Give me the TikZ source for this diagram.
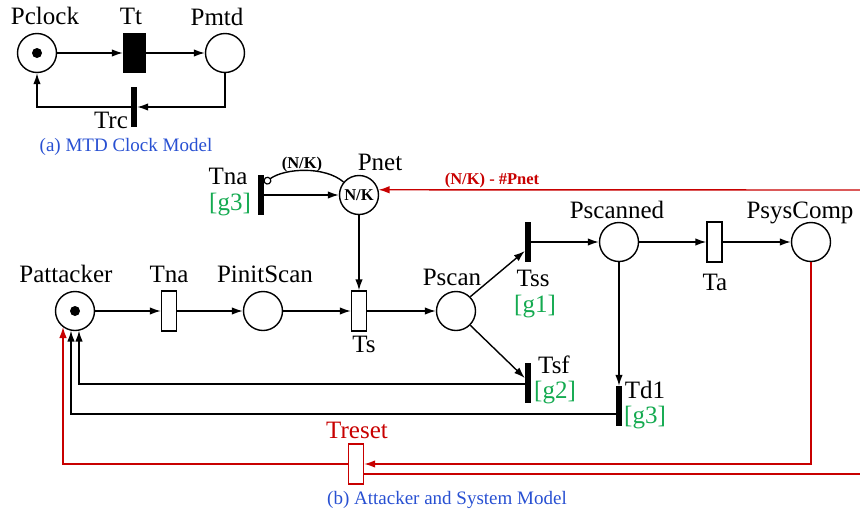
\documentclass[tikz,border=0pt]{standalone}
\usepackage{fontspec}
\setmainfont{Liberation Serif}
\usetikzlibrary{arrows.meta,calc}
\definecolor{capblue}{RGB}{40,80,210}
\definecolor{guardgreen}{RGB}{20,170,80}
\definecolor{arcred}{RGB}{200,0,0}

\begin{document}
\begin{tikzpicture}[x=1pt,y=-1pt,
  place/.style={circle,draw,line width=1.4pt,minimum size=39pt,inner sep=0pt},
  bar/.style={rectangle,fill=black,minimum width=6pt,minimum height=40pt,inner sep=0pt},
  tbox/.style={rectangle,draw,line width=1.4pt,minimum width=15pt,minimum height=40pt,inner sep=0pt,fill=white},
  arr/.style={line width=1.4pt,-{Latex[length=11pt,width=7.5pt]}},
  ln/.style={line width=1.4pt},
  lbl/.style={font=\fontsize{25}{25}\selectfont,inner sep=0pt,anchor=base},
  grd/.style={lbl,text=guardgreen},
  captxt/.style={font=\fontsize{19}{19}\selectfont,text=capblue,inner sep=0pt,anchor=base},
  wt/.style={font=\bfseries\fontsize{16.5}{16.5}\selectfont,inner sep=0pt},
  token/.style={circle,fill=black,minimum size=10pt,inner sep=0pt}
]
\useasboundingbox (0,0) rectangle (860,509);

% ---------- (a) clock model ----------
\node[place] (Pclock) at (37,53) {};
\node[token] (tokClock) at (Pclock) {};
\node[rectangle,fill=black,minimum width=23pt,minimum height=40pt,inner sep=0pt] (Tt) at (134.5,53) {};
\node[place] (Pmtd) at (225,53) {};
\node[bar] (Trc) at (134,107) {};

\draw[arr] (Pclock) -- (Tt);
\draw[arr] (Tt) -- (Pmtd);
\draw[arr] (Pmtd.south) |- (Trc.east);
\draw[arr] (Trc.west) -| (Pclock.south);

\node[lbl] (lPclock) at (45,24) {Pclock};
\node[lbl] (lTt) at (131,24) {Tt};
\node[lbl] (lPmtd) at (217,25) {Pmtd};
\node[lbl] (lTrc) at (111,128) {Trc};
\node[captxt] (capA) at (126,151) {(a) MTD Clock Model};

% ---------- (b) attacker and system model ----------
\node[place] (Pat) at (75,311) {};
\node[token] (tokAt) at (Pat) {};
\node[tbox] (TnaA) at (169,311) {};
\node[place] (Pinit) at (263,311) {};
\node[tbox] (Ts) at (359,311) {};
\node[place] (Pscan) at (456,311) {};
\node[bar] (Tss) at (528,242) {};
\node[place] (Pscanned) at (619,242) {};
\node[tbox] (Ta) at (714.5,242) {};
\node[place] (Psys) at (811,242) {};
\node[bar] (Tsf) at (528,383) {};
\node[bar] (Td1) at (619,406) {};
\node[bar] (TnaB) at (261,195) {};
\node[place,wt] (Pnet) at (359,195) {N/K};
\node[tbox,draw=arcred] (Treset) at (356,464) {};

% main flow
\draw[arr] (Pat) -- (TnaA);
\draw[arr] (TnaA) -- (Pinit);
\draw[arr] (Pinit) -- (Ts);
\draw[arr] (Ts) -- (Pscan);
\draw[arr] (Pnet) -- (Ts);
\draw[arr] (TnaB) -- (Pnet);

% inhibitor arc from Pnet to the upper Tna
\coordinate (inh) at ($(TnaB.east)+(0,-12)$);
\draw[ln,{Circle[open,length=8pt,width=8pt,line width=1.2pt]}-] (inh) .. controls (285,168) and (325,166) .. (Pnet.140);

% red input into Pnet
\coordinate (netIn) at (860,190);
\draw[arr,arcred] (netIn) -- (Pnet.15);

% scan outcomes
\draw[arr] (Pscan.45) -- ($(Tss.west)+(0,9)$);
\draw[arr] (Pscan.-45) -- ($(Tsf.west)+(0,-5)$);
\draw[arr] (Tss) -- (Pscanned);
\draw[arr] (Pscanned) -- (Ta);
\draw[arr] (Ta) -- (Psys);
\draw[arr] (Pscanned.south) -- (Td1.north);

% returns to Pattacker
\coordinate (retA) at ($(Pat.center)+(4,19.6)$);
\coordinate (retB) at ($(Pat.center)+(-4,19.6)$);
\coordinate (retC) at ($(Pat.center)+(-12,16)$);
\draw[arr] ($(Tsf.west)+(0,1)$) -| (retA);
\draw[arr] ($(Td1.west)+(0,8)$) -| (retB);

% reset loop
\draw[arr,arcred] (Psys.south) |- (Treset.east);
\draw[arr,arcred] (Treset.west) -| (retC);
\coordinate (resetIn) at (860,474);
\draw[ln,arcred] (resetIn) -- ($(Treset.east)+(0,10)$);

% labels
\node[lbl] (lPat) at (66,282) {Pattacker};
\node[lbl] (lTnaA) at (169,282) {Tna};
\node[lbl] (lPinit) at (265,282) {PinitScan};
\node[lbl] (lTs) at (364,352) {Ts};
\node[lbl] (lPscan) at (452,285) {Pscan};
\node[lbl] (lTss) at (533,286) {Tss};
\node[grd] (gTss) at (535,312) {[g1]};
\node[lbl] (lTsf) at (554,373) {Tsf};
\node[grd] (gTsf) at (555,398) {[g2]};
\node[lbl] (lTd1) at (645,398) {Td1};
\node[grd] (gTd1) at (645,423) {[g3]};
\node[lbl] (lTnaB) at (228,184) {Tna};
\node[grd] (gTnaB) at (230,210) {[g3]};
\node[lbl] (lPnet) at (380,170) {Pnet};
\node[wt,anchor=base] (wInh) at (302,168) {(N/K)};
\node[wt,anchor=base,text=arcred] (wNet) at (492,184) {(N/K) - \#Pnet};
\node[lbl] (lPscanned) at (617,218) {Pscanned};
\node[lbl] (lPsys) at (800,218) {PsysComp};
\node[lbl] (lTa) at (715,290) {Ta};
\node[lbl,text=arcred] (lTreset) at (357,438) {Treset};
\node[captxt] (capB) at (447,504) {(b) Attacker and System Model};
\end{tikzpicture}
\end{document}
